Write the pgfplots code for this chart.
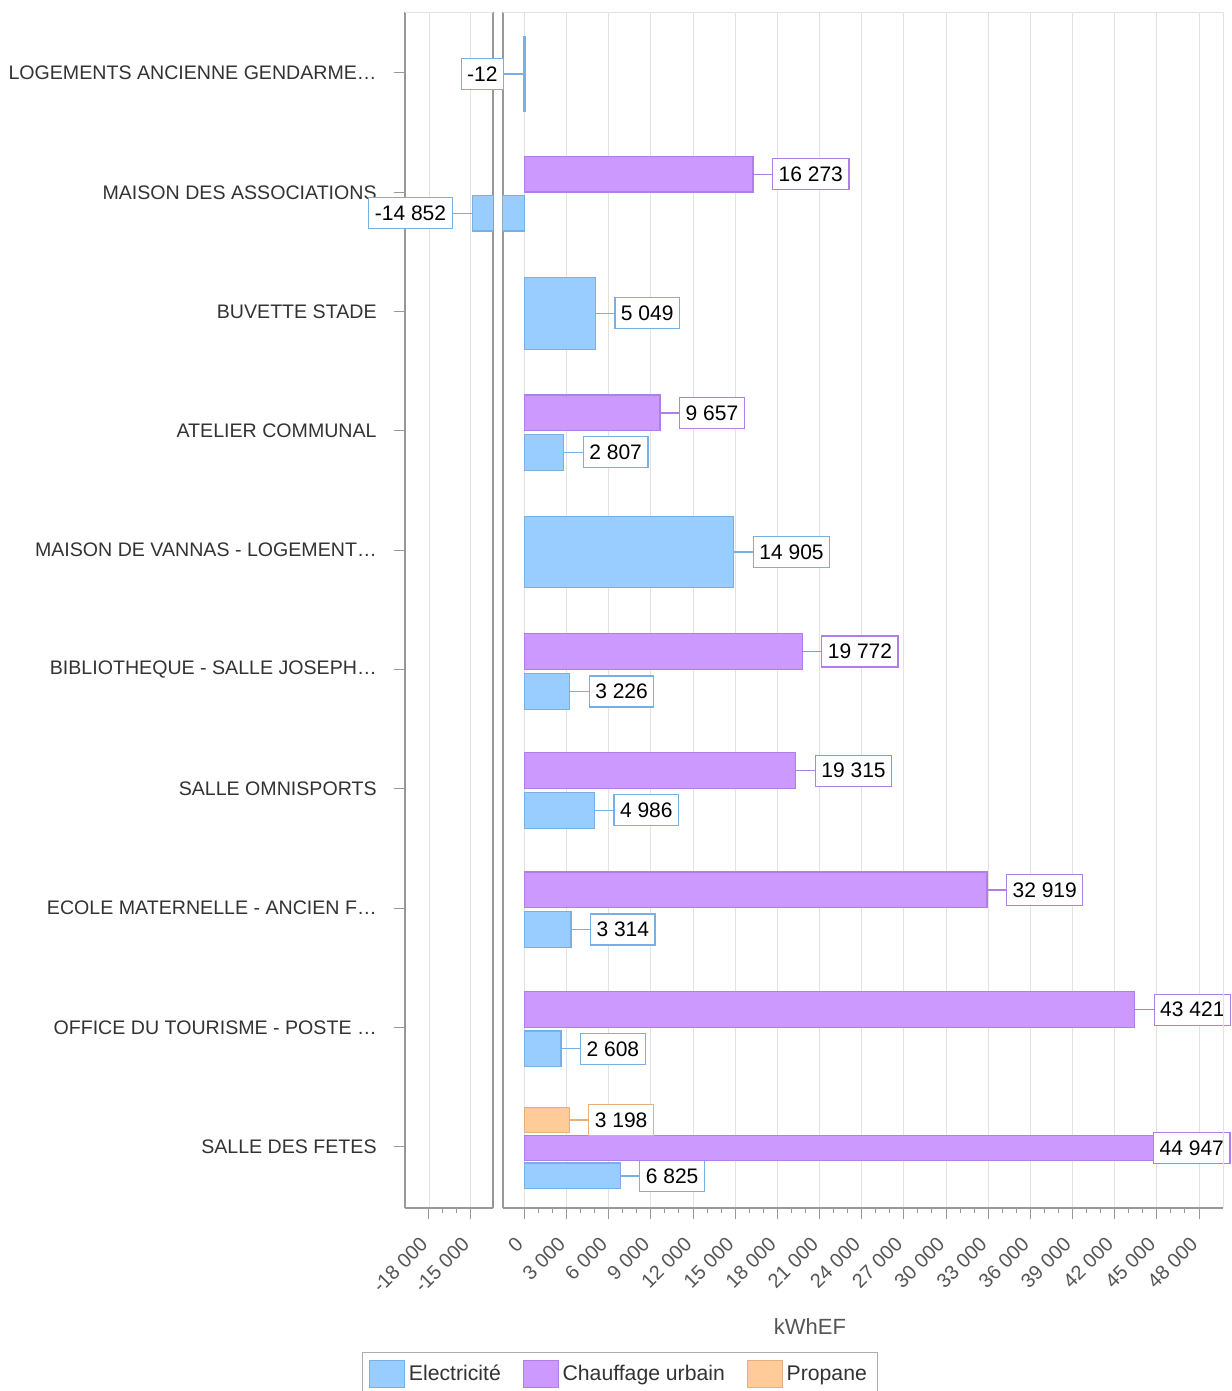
\documentclass[border=0pt]{standalone}
\usepackage{pgfplots}
\pgfplotsset{compat=1.18}
\usepackage{fontspec}
\setmainfont{Liberation Sans}

\definecolor{elecF}{HTML}{99CCFF}
\definecolor{elecD}{HTML}{78B0E6}
\definecolor{chaufF}{HTML}{CC99FF}
\definecolor{chaufD}{HTML}{B07EEA}
\definecolor{propF}{HTML}{FFCC99}
\definecolor{propD}{HTML}{E6B07C}
\definecolor{gridc}{HTML}{E2E2E2}
\definecolor{axc}{HTML}{989898}
\definecolor{txt}{HTML}{333333}
\definecolor{tickc}{HTML}{555555}

\tikzset{vlab/.style={draw=#1, fill=white, text=black, inner xsep=3pt, inner ysep=2pt,
    line width=0.6pt, minimum height=15.5pt, font=\fontsize{10.5}{12}\selectfont}}

\pgfplotsset{
  panel/.style={
    scale only axis, height=598pt,
    ymin=-0.511, ymax=9.514, y dir=reverse,
    clip mode=individual,
    xmajorgrids, major grid style={gridc},
    tick align=outside, major tick length=5.5pt, minor tick length=2.5pt,
    minor x tick num=2,
    tick style={axc, line width=0.5pt},
    axis line style={axc, line width=0.9pt},
    scaled x ticks=false,
    xticklabel style={xshift=-5pt, yshift=-3.5pt, rotate=45, anchor=north east, text=tickc,
      font=\fontsize{10}{12}\selectfont},
    /pgf/number format/assume math mode=true,
    /pgf/number format/1000 sep={\ },
  },
  bars/.style 2 args={xbar, bar shift=0pt, fill=#1, draw=#2, line width=0.6pt, forget plot, point meta=x},
  % value box to the right, linked to the bar end by a short line (x error bar)
  posl/.style={nodes near coords, every node near coord/.append style={
      vlab=#1, anchor=west, xshift=9.5pt},
    error bars/x dir=plus, error bars/x fixed=1352, error bars/error mark=none,
    error bars/error bar style={draw=#1, line width=0.6pt}},
  negl/.style 2 args={nodes near coords, every node near coord/.append style={
      vlab=#1, anchor=east, xshift=-10pt},
    error bars/x dir=minus, error bars/x fixed=#2, error bars/error mark=none,
    error bars/error bar style={draw=#1, line width=0.6pt}},
}

\begin{document}
\begin{tikzpicture}
% left part of the broken axis
\begin{axis}[panel, at={(0pt,0pt)}, anchor=south west, width=44.3pt,
  xmin=-19750, xmax=-13370,
  xtick={-18000,-15000},
  axis x line*=bottom, axis y line*=box, ytick pos=left,
  ytick={0,...,9},
  yticklabel style={text=txt, font=\fontsize{9.8}{12}\selectfont, xshift=-5pt},
  yticklabels={LOGEMENTS ANCIENNE GENDARME…, MAISON DES ASSOCIATIONS, BUVETTE STADE,
    ATELIER COMMUNAL, MAISON DE VANNAS - LOGEMENT…, BIBLIOTHEQUE - SALLE JOSEPH…,
    SALLE OMNISPORTS, ECOLE MATERNELLE - ANCIEN F…, OFFICE DU TOURISME - POSTE …,
    SALLE DES FETES},
]
\addplot[bars={elecF}{elecD}, bar width=0.30, negl={elecD}{1440}] coordinates {(-14852,1.175)};
\draw[gridc] (rel axis cs:0,1) -- (rel axis cs:1,1);
\end{axis}

% right part of the broken axis
\begin{axis}[panel, at={(49pt,0pt)}, anchor=south west, width=360.3pt,
  xmin=-1540, xmax=49730,
  xtick={0,3000,...,48000},
  axis x line*=bottom, axis y line*=left, ytick=\empty,
  legend columns=3, legend cell align=left,
  legend style={at={(0.1628,-0.1204)}, anchor=north, draw=axc!80, text=txt,
    font=\fontsize{10.6}{12}\selectfont, inner xsep=3.5pt, inner ysep=4pt,
    /tikz/every even column/.append style={column sep=9pt}},
  legend image code/.code={\draw[#1] (0pt,-6.75pt) rectangle (17.5pt,6.75pt);},
]
% Electricite
\addplot[bars={elecF}{elecD}, bar width=0.62, line width=1.2pt, negl={elecD}{1560}] coordinates {(-12,0.008)};
\addplot[bars={elecF}{elecD}, bar width=0.30] coordinates {(-14852,1.175)};
\addplot[bars={elecF}{elecD}, bar width=0.60, posl=elecD] coordinates {(5049,2.015) (14905,4.015)};
\addplot[bars={elecF}{elecD}, bar width=0.30, posl=elecD] coordinates {
  (2807,3.18) (3226,5.185) (4986,6.18) (3314,7.18) (2608,8.18)};
\addplot[bars={elecF}{elecD}, bar width=0.215, posl=elecD] coordinates {(6825,9.245)};
% Chauffage urbain
\addplot[bars={chaufF}{chaufD}, bar width=0.30, posl=chaufD] coordinates {
  (16273,0.848) (9657,2.85) (19772,4.85) (19315,5.848) (32919,6.848) (43421,7.852)};
\addplot[bars={chaufF}{chaufD}, bar width=0.205, nodes near coords,
  every node near coord/.append style={vlab=chaufD, anchor=west, xshift=-1.5pt}]
  coordinates {(44947,9.01)};
% Propane
\addplot[bars={propF}{propD}, bar width=0.215, posl=propD] coordinates {(3198,8.776)};

\draw[gridc] (rel axis cs:0,1) -- (rel axis cs:1,1) -- (rel axis cs:1,0);

\addlegendimage{fill=elecF, draw=elecD}
\addlegendentry{Electricité}
\addlegendimage{fill=chaufF, draw=chaufD}
\addlegendentry{Chauffage urbain}
\addlegendimage{fill=propF, draw=propD}
\addlegendentry{Propane}
\end{axis}

\node[text=tickc, font=\fontsize{11}{13}\selectfont] at (202.65pt,-59.5pt) {kWhEF};

\pgfresetboundingbox
\path (-202.35pt,604pt) rectangle (413.15pt,-91.5pt);
\end{tikzpicture}
\end{document}
